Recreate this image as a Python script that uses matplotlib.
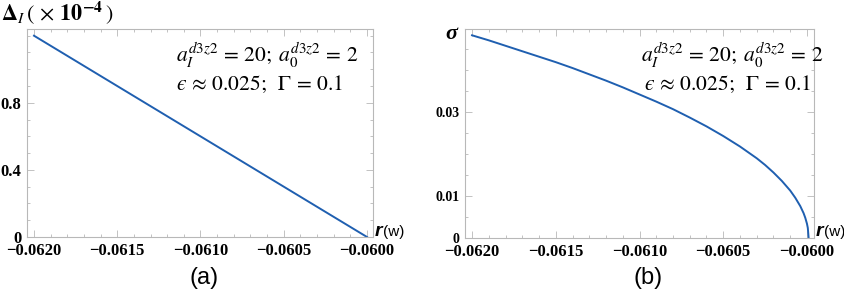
import numpy as np
import matplotlib
matplotlib.use("Agg")
import matplotlib.pyplot as plt
from matplotlib.ticker import MultipleLocator

plt.rcParams['mathtext.fontset'] = 'stix'

# panel (a): Delta_I (x1e-4) vs r(w)
r_a = [-0.0620, -0.0615, -0.0610, -0.0605, -0.0600]
delta_a = [1.20, 0.90, 0.60, 0.30, 0.0]

# panel (b): sigma vs r(w)
r_b = [-0.0620, -0.0619, -0.0618, -0.0617, -0.0616, -0.0615, -0.0614, -0.0613,
       -0.0612, -0.0611, -0.0610, -0.0609, -0.0608, -0.0607, -0.0606, -0.0605,
       -0.0604, -0.06035, -0.0603, -0.06025, -0.0602, -0.06015, -0.0601,
       -0.06007, -0.06004, -0.06002, -0.06001, -0.0600, -0.059995, -0.05999]
sigma_b = [0.0483, 0.0471, 0.0458, 0.0445, 0.0432, 0.0419, 0.0405, 0.0390,
           0.0375, 0.0359, 0.0342, 0.0325, 0.0307, 0.0287, 0.0266, 0.0243,
           0.0218, 0.0204, 0.0190, 0.0174, 0.0156, 0.0136, 0.0113,
           0.0096, 0.0076, 0.0059, 0.0048, 0.0034, 0.0024, 0.0]

x_ticks = [-0.0620, -0.0615, -0.0610, -0.0605, -0.0600]
x_labels = ['\u22120.0620', '\u22120.0615', '\u22120.0610', '\u22120.0605', '\u22120.0600']
ya_ticks = [0, 0.4, 0.8]
ya_labels = ['0', '0.4', '0.8']
yb_ticks = [0, 0.01, 0.03]
yb_labels = ['0', '0.01', '0.03']

line_color = '#1f5fb0'
frame_color = '#b8b8b8'
serif = 'Liberation Serif'

fig = plt.figure(figsize=(8.44, 2.93), dpi=100)
W, H = 844.0, 293.0
ax1 = fig.add_axes([27 / W, (H - 237) / H, 346 / W, 208 / H])
ax2 = fig.add_axes([465 / W, (H - 238) / H, 349 / W, 209 / H])


def style(ax, yticks, ylabels, yminor, ysize):
    for s in ax.spines.values():
        s.set_color(frame_color)
        s.set_linewidth(0.8)
    ax.set_xticks(x_ticks)
    ax.set_xticklabels(x_labels)
    ax.set_yticks(yticks)
    ax.set_yticklabels(ylabels)
    ax.xaxis.set_minor_locator(MultipleLocator(0.0001))
    ax.yaxis.set_minor_locator(MultipleLocator(yminor))
    ax.tick_params(which='both', direction='in', top=True, right=True,
                   color=frame_color, width=0.6)
    ax.tick_params(which='major', length=5)
    ax.tick_params(which='minor', length=2.5)
    ax.tick_params(axis='x', which='major', pad=4)
    ax.tick_params(axis='y', which='major', pad=4)
    for lab in ax.get_xticklabels():
        lab.set_fontfamily(serif)
        lab.set_fontweight('bold')
        lab.set_fontsize(12)
    for lab in ax.get_yticklabels():
        lab.set_fontfamily(serif)
        lab.set_fontweight('bold')
        lab.set_fontsize(ysize)
    # the "0" label sits a little above the frame corner
    ax.get_yticklabels()[0].set_va('center_baseline')


ax1.plot(r_a, delta_a, color=line_color, lw=1.4)
ax1.set_xlim(-0.062042, -0.059964)
ax1.set_ylim(0, 1.24)
style(ax1, ya_ticks, ya_labels, 0.1, 12)

ax2.plot(r_b, sigma_b, color=line_color, lw=1.4)
ax2.set_xlim(-0.062042, -0.059958)
ax2.set_ylim(0, 0.0498)
style(ax2, yb_ticks, yb_labels, 0.005, 10)

ann1 = r'$a_I^{d3z2}\,=\,20;\;a_0^{d3z2}\,=\,2$'
ann2 = '$\u03f5\\,\\approx\\,0.025;\\;\\;\\Gamma\\,=\\,0.1$'
fig.text(176 / W, 1 - 62 / H, ann1, fontsize=15.5, va='baseline')
fig.text(176 / W, 1 - 90 / H, ann2, fontsize=15.5, va='baseline')
fig.text(641 / W, 1 - 62 / H, ann1, fontsize=15.5, va='baseline')
fig.text(644 / W, 1 - 90 / H, ann2, fontsize=15.5, va='baseline')

# axis labels
fig.text(1 / W, 1 - 13 / H,
         r'$\mathbf{\Delta}_{I}\,(\,\times\,\mathbf{10}^{\mathbf{-4}}\,)$',
         fontsize=16, va='center', ha='left')
fig.text(445 / W, 1 - 34 / H, '\u03c3', fontfamily=serif, fontweight='bold',
         fontstyle='italic', fontsize=16, va='center', ha='left')
for x0, y0 in [(375, 232), (816, 232)]:
    fig.text(x0 / W, 1 - y0 / H, 'r', fontfamily='Liberation Sans',
             fontweight='bold', fontstyle='italic', fontsize=14, va='center', ha='left')
    fig.text((x0 + 8) / W, 1 - y0 / H, '(w)', fontfamily='Liberation Sans',
             fontsize=11, va='center', ha='left')

fig.text(204 / W, 1 - 278 / H, '(a)', fontfamily='Liberation Sans', fontsize=17,
         ha='center', va='center')
fig.text(648 / W, 1 - 278 / H, '(b)', fontfamily='Liberation Sans', fontsize=17,
         ha='center', va='center')

fig.savefig('out.png', dpi=100)
